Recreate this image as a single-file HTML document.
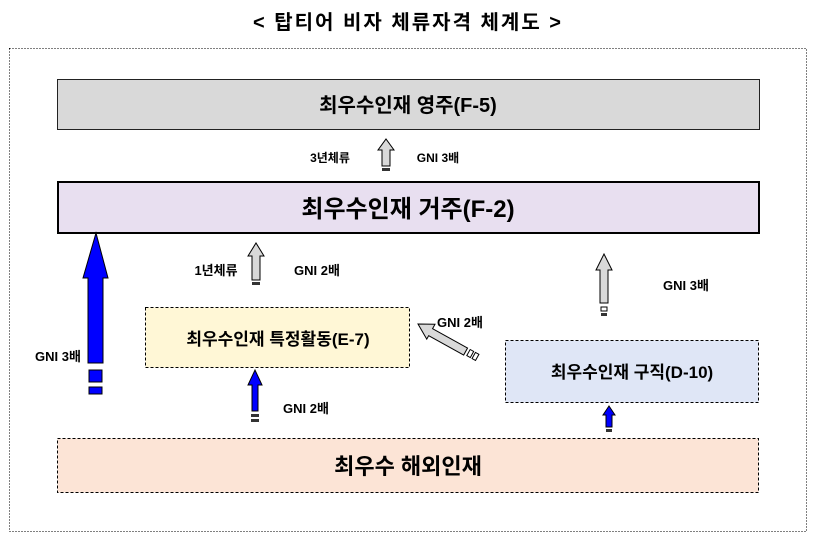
<!DOCTYPE html>
<html><head><meta charset="utf-8"><style>
html,body{margin:0;padding:0;background:#fff;}
svg{display:block;}
text{font-family:"Liberation Sans","Noto Sans CJK KR",sans-serif;font-weight:bold;fill:#000;}
</style></head><body>
<svg width="816" height="541" viewBox="0 0 816 541" xmlns="http://www.w3.org/2000/svg">
<text x="408" y="29" font-size="20" text-anchor="middle" letter-spacing="2">&lt; 탑티어 비자 체류자격 체계도 &gt;</text>
<rect x="9.5" y="48.5" width="797" height="483" fill="none" stroke="#000" stroke-width="1" stroke-dasharray="1,2"/>
<rect x="57.5" y="79.5" width="702" height="50" fill="#d9d9d9" stroke="#222" stroke-width="1"/>
<text x="408" y="112" font-size="20" text-anchor="middle">최우수인재 영주(F-5)</text>
<path d="M382,166 L382,150 L378,150 L386,139 L394,150 L390,150 L390,166 Z" fill="#d9d9d9" stroke="#000" stroke-width="1"/>
<rect x="382" y="168" width="8" height="3" fill="#333"/>
<text x="330" y="162" font-size="12" text-anchor="middle">3년체류</text>
<text x="438" y="162" font-size="12" text-anchor="middle">GNI 3배</text>
<rect x="58" y="182" width="701" height="51" fill="#e8dff0" stroke="#000" stroke-width="2"/>
<text x="408" y="217" font-size="24" text-anchor="middle">최우수인재 거주(F-2)</text>
<path d="M88,363 L88,278 L83,278 L96,233 L108,278 L103,278 L103,363 Z" fill="#0000ff" stroke="#000" stroke-width="1"/>
<rect x="89" y="370" width="13" height="12" fill="#0000ff" stroke="#000"/>
<rect x="89" y="387" width="13" height="7" fill="#0000ff" stroke="#000"/>
<text x="58" y="361" font-size="13" text-anchor="middle">GNI 3배</text>
<path d="M252,280 L252,256 L248,256 L256,243 L264,256 L260,256 L260,280 Z" fill="#d9d9d9" stroke="#000"/>
<rect x="252" y="282" width="8" height="3" fill="#333"/>
<text x="216" y="275" font-size="13" text-anchor="middle">1년체류</text>
<text x="317" y="275" font-size="13" text-anchor="middle">GNI 2배</text>
<rect x="145.5" y="307.5" width="264" height="60" fill="#fff7d6" stroke="#000" stroke-dasharray="3,2"/>
<text x="278" y="345" font-size="17" text-anchor="middle">최우수인재 특정활동(E-7)</text>
<path d="M252,411 L252,385 L248,385 L255,370 L262,385 L258,385 L258,411 Z" fill="#0000ff" stroke="#000"/>
<rect x="251" y="414" width="8" height="3" fill="#333"/>
<rect x="251" y="419" width="8" height="3" fill="#333"/>
<text x="306" y="413" font-size="13" text-anchor="middle">GNI 2배</text>
<g transform="translate(418,324) rotate(29)">
<path d="M0,0 L15,-8 L15,-3 L55,-3 L55,5 L15,5 L15,9 Z" fill="#d9d9d9" stroke="#000"/>
<rect x="58" y="-3" width="4" height="7" fill="#fff" stroke="#000"/>
<rect x="64" y="-3" width="4" height="7" fill="#fff" stroke="#000"/>
</g>
<text x="460" y="327" font-size="13" text-anchor="middle">GNI 2배</text>
<path d="M600,303 L600,270 L596,270 L604,254 L612,270 L608,270 L608,303 Z" fill="#d9d9d9" stroke="#000"/>
<rect x="601" y="307" width="6" height="4" fill="#fff" stroke="#000"/>
<rect x="601" y="313" width="6" height="3" fill="#333"/>
<text x="686" y="290" font-size="13" text-anchor="middle">GNI 3배</text>
<rect x="505.5" y="340.5" width="253" height="62" fill="#dfe6f6" stroke="#000" stroke-dasharray="3,2"/>
<text x="632" y="378" font-size="17" text-anchor="middle">최우수인재 구직(D-10)</text>
<path d="M606,427 L606,415 L603,415 L609,406 L615,415 L612,415 L612,427 Z" fill="#0000ff" stroke="#000"/>
<rect x="606" y="429" width="6" height="3" fill="#333"/>
<rect x="57.5" y="438.5" width="701" height="54" fill="#fce4d6" stroke="#000" stroke-dasharray="3,2"/>
<text x="408" y="474" font-size="22" text-anchor="middle">최우수 해외인재</text>
</svg>
</body></html>
